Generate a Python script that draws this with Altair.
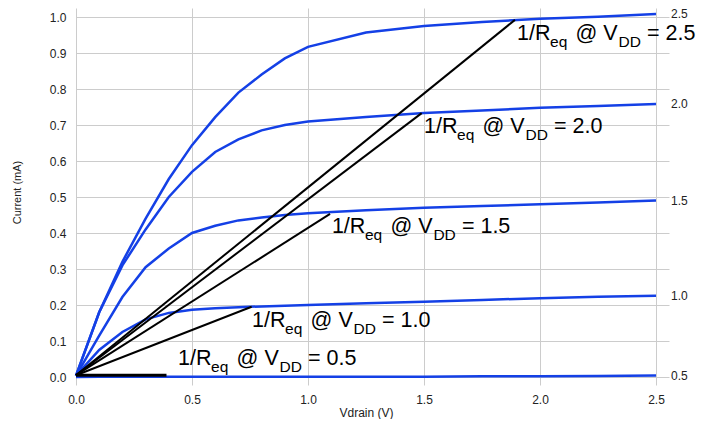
import altair as alt
import pandas as pd

# ---- data ----
vdrain = [0, 0.1, 0.2, 0.3, 0.4, 0.5, 0.6, 0.7, 0.8, 0.9, 1.0, 1.25, 1.5, 1.75, 2.0, 2.25, 2.5]
i_vdd05 = [0.0, 0.001, 0.001, 0.001, 0.001, 0.001, 0.001, 0.001, 0.001, 0.001, 0.001, 0.001, 0.001, 0.002, 0.002, 0.003, 0.004]
i_vdd10 = [0.004, 0.075, 0.125, 0.16, 0.178, 0.187, 0.191, 0.194, 0.196, 0.198, 0.2, 0.205, 0.209, 0.214, 0.219, 0.223, 0.226]
i_vdd15 = [0.004, 0.115, 0.222, 0.305, 0.357, 0.40, 0.42, 0.435, 0.443, 0.45, 0.455, 0.463, 0.47, 0.475, 0.48, 0.485, 0.49]
i_vdd20 = [0.004, 0.18, 0.31, 0.41, 0.50, 0.57, 0.625, 0.66, 0.685, 0.70, 0.71, 0.722, 0.733, 0.74, 0.748, 0.753, 0.758]
i_vdd25 = [0.004, 0.18, 0.32, 0.44, 0.55, 0.644, 0.722, 0.79, 0.84, 0.885, 0.917, 0.957, 0.975, 0.986, 0.995, 1.001, 1.008]

vdd_names = ["0.5", "1.0", "1.5", "2.0", "2.5"]
curve_sets = [i_vdd05, i_vdd10, i_vdd15, i_vdd20, i_vdd25]

# 1/Req lines: origin -> end point
req_start_i = 0.005
req_end_v = [0.39, 0.757, 1.095, 1.49, 1.892]
req_end_i = [0.005, 0.195, 0.453, 0.733, 0.992]

# label anchors (data units)
label_v = [0.44, 0.759, 1.103, 1.50, 1.901]
label_i = [0.033, 0.139, 0.40, 0.678, 0.936]

x_ticks = [0, 0.5, 1.0, 1.5, 2.0, 2.5]
y_ticks = [0, 0.1, 0.2, 0.3, 0.4, 0.5, 0.6, 0.7, 0.8, 0.9, 1.0]

FONT = "Liberation Sans"
BLUE = "#1440e6"
GRID = "#cccccc"

curves = pd.DataFrame(
    [{"vdd": n, "v": v, "i": c} for n, s in zip(vdd_names, curve_sets) for v, c in zip(vdrain, s)]
)
lines_rows = []
for n, ev, ei in zip(vdd_names, req_end_v, req_end_i):
    lines_rows.append({"vdd": n, "v": 0.0, "i": req_start_i, "k": 0})
    lines_rows.append({"vdd": n, "v": ev, "i": ei, "k": 1})
lines = pd.DataFrame(lines_rows)
labels = pd.DataFrame({"vdd": vdd_names, "v": label_v, "i": label_i,
                       "tail": ["= " + n for n in vdd_names]})
ends = pd.DataFrame({"vdd": vdd_names, "v": [vdrain[-1]] * 5, "i": [s[-1] for s in curve_sets]})

xs = alt.Scale(domain=[0, 2.556], nice=False, zero=False)
ys = alt.Scale(domain=[0, 1.025], nice=False, zero=False)

x_axis = alt.Axis(values=x_ticks, format=".1f", title="Vdrain (V)", grid=True, gridColor=GRID,
                  tickColor=GRID, tickSize=8, domain=False, labelFont=FONT, labelFontSize=12,
                  labelColor="#222222", labelPadding=9, labelFlush=False, labelOverlap=False,
                  titleFont=FONT, titleFontSize=12,
                  titleFontWeight="normal", titleColor="#222222", titleX=290, titlePadding=2)
y_axis = alt.Axis(values=y_ticks, format=".1f", title="Current (mA)", grid=True, gridColor=GRID,
                  ticks=False, domain=False, labelFont=FONT, labelFontSize=12,
                  labelColor="#222222", labelPadding=10, labelFlush=False, labelOverlap=False,
                  titleFont=FONT, titleFontSize=11,
                  titleFontWeight="normal", titleColor="#222222", titleX=-59, titleY=184,
                  titleBaseline="middle", titleAngle=-90)

curve_layer = alt.Chart(curves).mark_line(color=BLUE, strokeWidth=2.5).encode(
    detail="vdd:N", order="v:Q"
)
line_data = lines[lines["vdd"] != "0.5"]
req_layer = alt.Chart(line_data).mark_line(color="#000000", strokeWidth=2).encode(
    detail="vdd:N", order="k:Q"
)
req05_layer = alt.Chart(lines[lines["vdd"] == "0.5"]).mark_line(color="#000000", strokeWidth=3).encode(
    detail="vdd:N", order="k:Q"
)

BIG, SMALL, SUB = 21.5, 15.5, 7
segments = [("1/R", 0, BIG, 0), ("eq", 33, SMALL, SUB), ("@ V", 58.5, BIG, 0), ("DD", 101.5, SMALL, SUB)]
text_layers = []
for txt, dx, fs, dy in segments:
    text_layers.append(
        alt.Chart(labels).mark_text(text=txt, align="left", baseline="alphabetic", dx=dx, dy=dy,
                                    font=FONT, fontSize=fs, color="#000000")
    )
text_layers.append(
    alt.Chart(labels).mark_text(align="left", baseline="alphabetic", dx=130,
                                font=FONT, fontSize=BIG, color="#000000").encode(text="tail:N")
)

end_labels = alt.Chart(ends).mark_text(align="left", baseline="middle", dx=15, font=FONT,
                                       fontSize=12, color="#222222").encode(text="vdd:N")

chart = alt.layer(curve_layer, req_layer, req05_layer, *text_layers, end_labels).encode(
    x=alt.X("v:Q", scale=xs, axis=x_axis),
    y=alt.Y("i:Q", scale=ys, axis=y_axis),
).properties(
    width=593, height=369,
    autosize=alt.AutoSizeParams(type="none"),
    padding={"left": 68, "top": 0, "right": 27, "bottom": 42},
).configure_view(stroke=None)

chart.save("out.html", embed_options={"renderer": "svg", "actions": False})
